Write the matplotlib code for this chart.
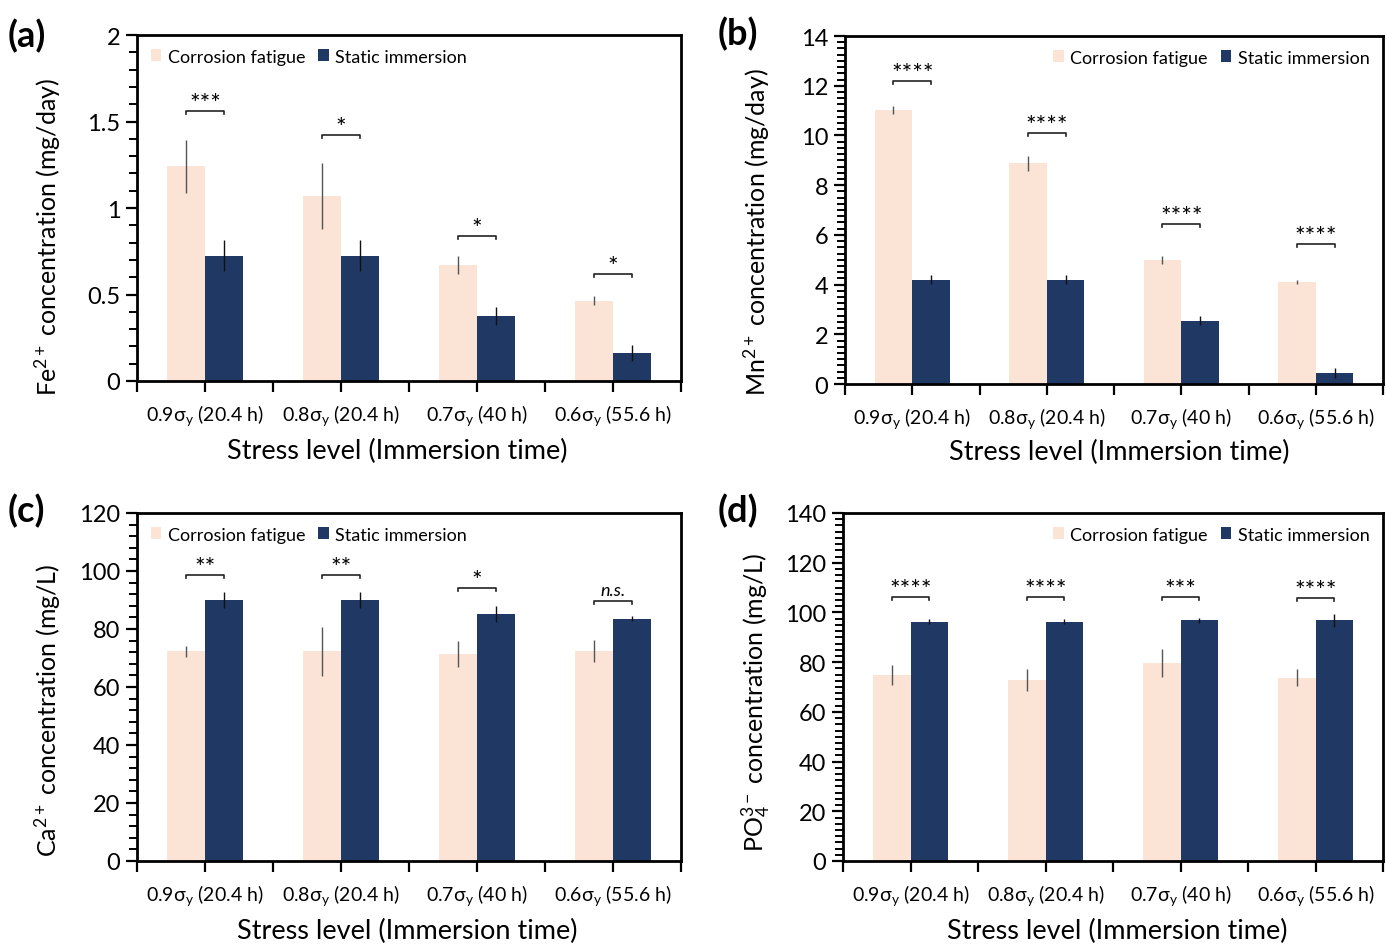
import numpy as np
import matplotlib
matplotlib.use("Agg")
import matplotlib.pyplot as plt
from matplotlib.patches import Patch
from matplotlib.ticker import MultipleLocator, FuncFormatter

plt.rcParams['font.family'] = ['Lato', 'DejaVu Sans']
plt.rcParams['mathtext.fontset'] = 'custom'
plt.rcParams['mathtext.rm'] = 'Lato'
plt.rcParams['mathtext.it'] = 'Lato:italic'
plt.rcParams['mathtext.bf'] = 'Lato:bold'

# ---------------- data ----------------
categories = ["0.9σ$_\\mathregular{y}$ (20.4 h)", "0.8σ$_\\mathregular{y}$ (20.4 h)",
              "0.7σ$_\\mathregular{y}$ (40 h)", "0.6σ$_\\mathregular{y}$ (55.6 h)"]
series_names = ["Corrosion fatigue", "Static immersion"]

fe_cf = [1.24, 1.07, 0.67, 0.465]
fe_cf_err = [0.155, 0.19, 0.05, 0.025]
fe_si = [0.725, 0.725, 0.375, 0.162]
fe_si_err = [0.09, 0.09, 0.05, 0.045]
fe_sig = ['***', '*', '*', '*']
fe_sig_y = [1.56, 1.42, 0.84, 0.62]

mn_cf = [11.02, 8.88, 4.98, 4.11]
mn_cf_err = [0.17, 0.31, 0.17, 0.08]
mn_si = [4.2, 4.2, 2.55, 0.46]
mn_si_err = [0.18, 0.18, 0.18, 0.2]
mn_sig = ['****', '****', '****', '****']
mn_sig_y = [12.2, 10.1, 6.45, 5.62]

ca_cf = [72.3, 72.3, 71.5, 72.3]
ca_cf_err = [2.0, 8.4, 4.5, 3.8]
ca_si = [90.0, 90.0, 85.2, 83.6]
ca_si_err = [2.6, 2.6, 2.7, 1.0]
ca_sig = ['**', '**', '*', 'n.s.']
ca_sig_y = [98.6, 98.6, 94.3, 89.8]

po_cf = [75.0, 72.8, 79.6, 73.8]
po_cf_err = [4.0, 4.3, 5.5, 3.3]
po_si = [96.3, 96.3, 96.8, 96.8]
po_si_err = [1.0, 1.0, 1.0, 2.5]
po_sig = ['****', '****', '***', '****']
po_sig_y = [106.2, 106.2, 106.2, 105.9]

ylabels = ["Fe$^{2+}$ concentration (mg/day)", "Mn$^{2+}$ concentration (mg/day)",
           "Ca$^{2+}$ concentration (mg/L)", "PO$_4^{3-}$ concentration (mg/L)"]
xlabel = "Stress level (Immersion time)"
panel_letters = ["(a)", "(b)", "(c)", "(d)"]

# ---------------- style ----------------
CF_COLOR = '#FBE4D6'
SI_COLOR = '#203864'
W = 1386
H = 945

fig = plt.figure(figsize=(13.86, 9.45), dpi=100)

def box(l, r, t, b):
    return [l / W, 1 - b / H, (r - l) / W, (b - t) / H]

axes_specs = [
    dict(rect=box(137, 681, 36, 382), ylim=(0, 2), major=0.5, minor=0.1,
         cf=fe_cf, cfe=fe_cf_err, si=fe_si, sie=fe_si_err, sig=fe_sig, sigy=fe_sig_y,
         legloc='upper left', lab=(8, 36), ylc=(-0.164, 0.42), xlc=(0.478, -0.202)),
    dict(rect=box(845, 1383, 37, 385), ylim=(0, 14), major=2, minor=0.25,
         cf=mn_cf, cfe=mn_cf_err, si=mn_si, sie=mn_si_err, sig=mn_sig, sigy=mn_sig_y,
         legloc='upper right', lab=(718, 34), ylc=(-0.164, 0.44), xlc=(0.509, -0.193)),
    dict(rect=box(137, 681, 514, 862), ylim=(0, 120), major=20, minor=4,
         cf=ca_cf, cfe=ca_cf_err, si=ca_si, sie=ca_si_err, sig=ca_sig, sigy=ca_sig_y,
         legloc='upper left', lab=(8, 511), ylc=(-0.164, 0.437), xlc=(0.496, -0.201)),
    dict(rect=box(843, 1383, 514, 862), ylim=(0, 140), major=20, minor=2.5,
         cf=po_cf, cfe=po_cf_err, si=po_si, sie=po_si_err, sig=po_sig, sigy=po_sig_y,
         legloc='upper right', lab=(718, 511), ylc=(-0.160, 0.46), xlc=(0.507, -0.201)),
]

bw = 0.28
x = np.arange(len(categories))

for i, s in enumerate(axes_specs):
    ax = fig.add_axes(s['rect'])
    ax.bar(x - bw / 2, s['cf'], width=bw, color=CF_COLOR, zorder=2)
    ax.bar(x + bw / 2, s['si'], width=bw, color=SI_COLOR, zorder=2)
    ax.errorbar(x - bw / 2, s['cf'], yerr=s['cfe'], fmt='none', ecolor='#555555',
                elinewidth=1.0, capsize=0, zorder=3)
    ax.errorbar(x + bw / 2, s['si'], yerr=s['sie'], fmt='none', ecolor='#111111',
                elinewidth=1.0, capsize=0, zorder=3)
    ymax = s['ylim'][1]
    leg = 0.009 * ymax
    for xi, lab, yy in zip(x, s['sig'], s['sigy']):
        ax.plot([xi - bw / 2, xi - bw / 2, xi + bw / 2, xi + bw / 2],
                [yy - leg, yy, yy, yy - leg], color='#222222', lw=1.2, zorder=3)
        if lab == 'n.s.':
            ax.text(xi, yy + 0.008 * ymax, lab, ha='center', va='bottom',
                    fontsize=13, style='italic')
        else:
            ax.text(xi, yy - 0.012 * ymax, lab, ha='center', va='bottom',
                    fontsize=18)
    ax.set_xlim(-0.5, len(categories) - 0.5)
    ax.set_ylim(*s['ylim'])
    ax.set_xticks(x)
    ax.set_xticklabels(categories, fontsize=14)
    ax.set_xticks(np.arange(-0.5, len(categories), 1.0), minor=True)
    ax.tick_params(axis='x', which='major', direction='out', length=8, width=1.6, pad=7)
    ax.tick_params(axis='x', which='minor', direction='out', length=8, width=1.6)
    ax.yaxis.set_major_locator(MultipleLocator(s['major']))
    ax.yaxis.set_minor_locator(MultipleLocator(s['minor']))
    ax.tick_params(axis='y', which='major', direction='out', length=8, width=1.6,
                   labelsize=17, pad=4)
    ax.tick_params(axis='y', which='minor', direction='out', length=6, width=1.4)
    ax.yaxis.set_major_formatter(FuncFormatter(lambda v, p: f"{v:g}"))
    for sp in ax.spines.values():
        sp.set_linewidth(2.0)
        sp.set_color('black')
    ax.set_ylabel(ylabels[i], fontsize=18)
    ax.yaxis.set_label_coords(*s['ylc'])
    ax.yaxis.label.set_va('center')
    ax.set_xlabel(xlabel, fontsize=19.5)
    ax.xaxis.set_label_coords(*s['xlc'])
    ax.xaxis.label.set_va('center')
    handles = [Patch(facecolor=CF_COLOR, edgecolor='none'),
               Patch(facecolor=SI_COLOR, edgecolor='none')]
    ax.legend(handles, series_names, loc=s['legloc'], ncol=2, frameon=False,
              fontsize=13, handlelength=0.6, handleheight=0.6, handletextpad=0.35,
              columnspacing=0.7, borderaxespad=0.35)
    fig.text(s['lab'][0] / W, 1 - s['lab'][1] / H, panel_letters[i],
             fontsize=26, fontweight='bold', va='center', ha='left')

fig.savefig("out.png", dpi=100)
